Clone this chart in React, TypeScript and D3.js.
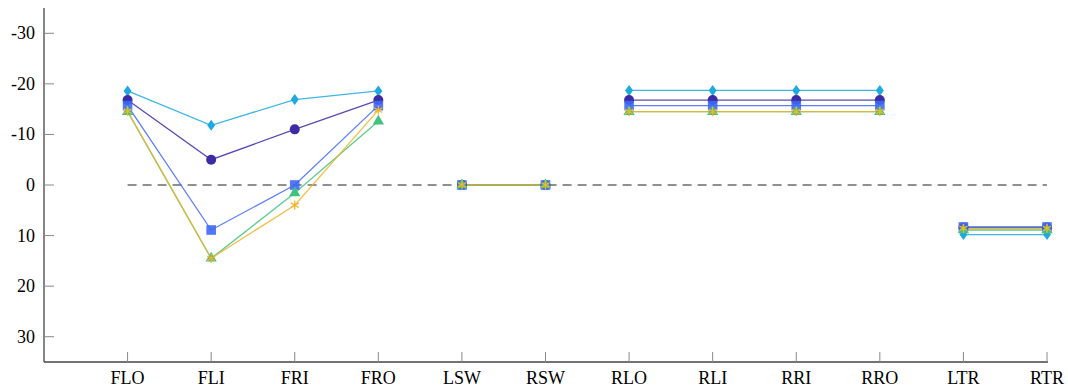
import React from 'react';
import * as d3 from 'd3';

const categories = ['FLO', 'FLI', 'FRI', 'FRO', 'LSW', 'RSW', 'RLO', 'RLI', 'RRI', 'RRO', 'LTR', 'RTR'];
// index ranges [start, end) that are joined by a line
const groups = [[0, 4], [4, 6], [6, 10], [10, 12]];
const yTicks = [-30, -20, -10, 0, 10, 20, 30];

const diamondValues = [-18.6, -11.8, -16.9, -18.6, 0, 0, -18.7, -18.7, -18.7, -18.7, 9.8, 9.8];
const circleValues = [-16.8, -5.0, -11.0, -16.8, 0, 0, -16.8, -16.8, -16.8, -16.8, 8.4, 8.4];
const squareValues = [-15.7, 8.9, 0, -15.7, 0, 0, -15.7, -15.7, -15.7, -15.7, 8.3, 8.3];
const triangleValues = [-14.5, 14.5, 1.6, -12.6, 0, 0, -14.5, -14.5, -14.5, -14.5, 8.9, 8.9];
const starValues = [-14.6, 14.5, 4.0, -14.8, 0, 0, -14.5, -14.5, -14.5, -14.5, 8.6, 8.6];

const series = [
    { name: 'diamond', values: diamondValues, color: '#1ea9e1', marker: 'diamond' },
    { name: 'circle', values: circleValues, color: '#3b2ca6', marker: 'circle' },
    { name: 'square', values: squareValues, color: '#3f68f6', marker: 'square' },
    { name: 'triangle', values: triangleValues, color: '#3ec27e', marker: 'triangle' },
    { name: 'star', values: starValues, color: '#efb52c', marker: 'star' }
];

const W = 1068, H = 387;
const m = { left: 44, right: 21, top: 8, bottom: 25 };
const textStyle = { fontFamily: 'Times New Roman', fontSize: '18px' };

function Marker({ type, x, y, color }: { type: string; x: number; y: number; color: string }) {
    const t = `translate(${x},${y})`;
    if (type === 'diamond') {
        return <path transform={t} d="M0,-5.5L4,0L0,5.5L-4,0Z" fill={color} />;
    }
    if (type === 'circle') {
        return <circle cx={x} cy={y} r={5} fill={color} />;
    }
    if (type === 'square') {
        return <rect x={x - 4.8} y={y - 4.8} width={9.6} height={9.6} fill={color} opacity={0.9} />;
    }
    if (type === 'triangle') {
        return <path transform={t} d={d3.symbol().type(d3.symbolTriangle).size(55)()!} fill={color} />;
    }
    const ast = (d3 as any).symbolAsterisk || d3.symbolCross;
    return <path transform={t} d={d3.symbol().type(ast).size(60)()!} fill="none" stroke={color} strokeWidth={1.3} />;
}

export default function App() {
    const x = d3.scaleLinear().domain([-1, 11]).range([m.left, W - m.right]);
    const y = d3.scaleLinear().domain([-35, 35]).range([m.top, H - m.bottom]);

    return (
        <svg width={W} height={H} style={{ position: 'absolute', left: 0, top: 0, background: '#fff' }}>
            {/* zero reference */}
            <line x1={x(0)} x2={x(11)} y1={y(0)} y2={y(0)} stroke="#222" strokeWidth={1.1} strokeDasharray="9,6" />

            {series.map(s => (
                <g key={s.name}>
                    {groups.map(([a, b]) => {
                        const idx = d3.range(a, b);
                        const path = d3.line<number>().x(i => x(i)).y(i => y(s.values[i]))(idx);
                        return <path key={a} d={path!} fill="none" stroke={s.color} strokeWidth={1.3} strokeOpacity={0.85} />;
                    })}
                </g>
            ))}
            {series.map(s => (
                <g key={s.name + '-m'}>
                    {s.values.map((v, i) => <Marker key={i} type={s.marker} x={x(i)} y={y(v)} color={s.color} />)}
                </g>
            ))}

            {/* axes */}
            <line x1={m.left} x2={m.left} y1={m.top} y2={H - m.bottom} stroke="#444" strokeWidth={1.3} />
            <line x1={m.left} x2={x(11) + 1} y1={H - m.bottom} y2={H - m.bottom} stroke="#444" strokeWidth={1.3} />
            {yTicks.map(t => (
                <g key={t}>
                    <line x1={m.left} x2={m.left + 10} y1={y(t)} y2={y(t)} stroke="#888" />
                    <text x={35} y={y(t) + 6} textAnchor="end" style={textStyle}>{t}</text>
                </g>
            ))}
            {categories.map((c, i) => (
                <g key={c}>
                    <line x1={x(i)} x2={x(i)} y1={H - m.bottom} y2={H - m.bottom - 10} stroke="#888" />
                    <text x={x(i)} y={H - 3} textAnchor="middle" style={textStyle}>{c}</text>
                </g>
            ))}
        </svg>
    );
}
